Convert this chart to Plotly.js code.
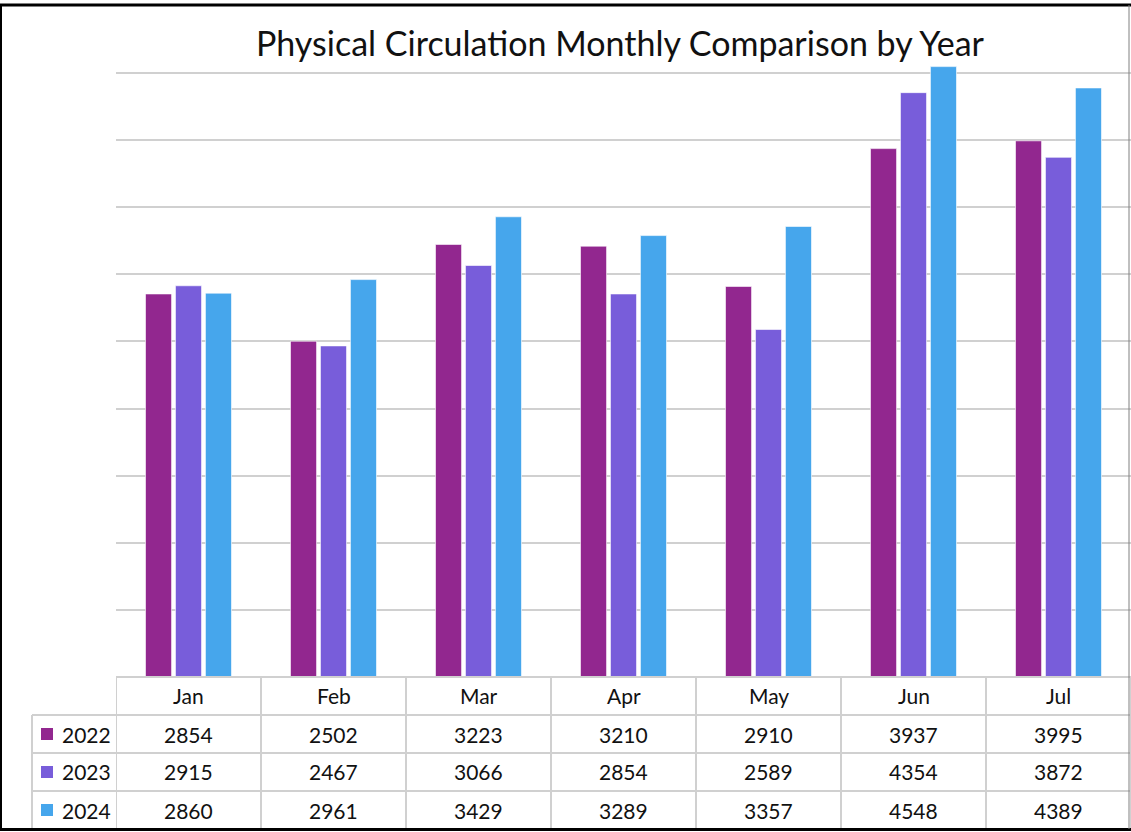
<!DOCTYPE html>
<html>
<head>
<meta charset="utf-8">
<script src="https://cdn.plot.ly/plotly-3.0.1.min.js"></script>
<style>
  html, body { margin: 0; padding: 0; background: #fff; }
  #chart { width: 1131px; height: 832px; }
</style>
</head>
<body>
<div id="chart"></div>
<script>
const months = ["Jan", "Feb", "Mar", "Apr", "May", "Jun", "Jul"];
const years = ["2022", "2023", "2024"];
const v2022 = [2854, 2502, 3223, 3210, 2910, 3937, 3995];
const v2023 = [2915, 2467, 3066, 2854, 2589, 4354, 3872];
const v2024 = [2860, 2961, 3429, 3289, 3357, 4548, 4389];
const colors = ["#92278F", "#785DDA", "#46A6EC"];
const series = [v2022, v2023, v2024];

const W = 1131, H = 832;
const L = 116, R = 0, T = 65, B = 155;
const plotW = W - L - R, plotH = H - T - B;
const baseY = H - B; // pixel y of the baseline
const px = p => (p - L) / plotW;          // pixel x -> paper
const py = p => (baseY - p) / plotH;      // pixel y -> paper

const FONT = "Lato, 'Open Sans', sans-serif";
const TXT = "#111111";
const LINE = "#d0d0d0";

const traces = series.map((vals, i) => ({
  type: "bar",
  name: years[i],
  x: months,
  y: vals,
  marker: { color: colors[i], line: { color: "rgba(255,255,255,0.6)", width: 1 } },
  cliponaxis: false,
  hoverinfo: "x+y+name"
}));

const shapes = [];
const annotations = [];

// table geometry (pixels)
const rowTops = [677, 715, 753, 791, 829];
const leftColX = 32;

// horizontal table lines
shapes.push({ type: "line", xref: "paper", yref: "paper", x0: px(L), x1: 1, y0: py(rowTops[0]), y1: py(rowTops[0]), line: { color: LINE, width: 2 } });
for (let r = 1; r < rowTops.length; r++) {
  shapes.push({ type: "line", xref: "paper", yref: "paper", x0: px(leftColX), x1: 1, y0: py(rowTops[r]), y1: py(rowTops[r]), line: { color: LINE, width: 2 } });
}
// vertical table lines
shapes.push({ type: "line", xref: "paper", yref: "paper", x0: px(leftColX), x1: px(leftColX), y0: py(rowTops[1]), y1: py(rowTops[4]), line: { color: LINE, width: 2 } });
for (let c = 0; c <= months.length; c++) {
  shapes.push({ type: "line", xref: "x", yref: "paper", x0: c - 0.5, x1: c - 0.5, y0: py(rowTops[0]), y1: py(rowTops[4]), line: { color: LINE, width: 2 } });
}

// month header labels
months.forEach((m, i) => {
  annotations.push({ x: m, xref: "x", y: py((rowTops[0] + rowTops[1]) / 2), yref: "paper", text: m, showarrow: false, font: { family: FONT, size: 21, color: TXT }, xanchor: "center", yanchor: "middle" });
});

// data rows
series.forEach((vals, r) => {
  const cy = py((rowTops[r + 1] + rowTops[r + 2]) / 2);
  // legend key
  shapes.push({ type: "rect", xref: "paper", yref: "paper", x0: px(41), x1: px(53), y0: cy - 6 / plotH, y1: cy + 6 / plotH, fillcolor: colors[r], line: { width: 0 } });
  annotations.push({ x: px(60), xref: "paper", y: cy, yref: "paper", text: years[r], showarrow: false, font: { family: FONT, size: 21, color: TXT }, xanchor: "left", yanchor: "middle" });
  vals.forEach((v, i) => {
    annotations.push({ x: months[i], xref: "x", y: cy, yref: "paper", text: String(v), showarrow: false, font: { family: FONT, size: 21, color: TXT }, xanchor: "center", yanchor: "middle" });
  });
});

// outer frame
shapes.push({ type: "line", xref: "paper", yref: "paper", x0: px(0), x1: px(1131), y0: py(5), y1: py(5), line: { color: "#000", width: 3 } });
shapes.push({ type: "line", xref: "paper", yref: "paper", x0: px(1), x1: px(1), y0: py(4), y1: py(830), line: { color: "#000", width: 2 } });
shapes.push({ type: "line", xref: "paper", yref: "paper", x0: px(0), x1: px(1131), y0: py(829.5), y1: py(829.5), line: { color: "#000", width: 3 } });
shapes.push({ type: "line", xref: "paper", yref: "paper", x0: px(1129), x1: px(1129), y0: py(5), y1: py(829), line: { color: "#808080", width: 1 } });

const layout = {
  width: W, height: H,
  margin: { l: L, r: R, t: T, b: B, pad: 0 },
  paper_bgcolor: "#fff", plot_bgcolor: "#fff",
  title: { text: "Physical Circulation Monthly Comparison by Year", font: { family: FONT, size: 34, color: TXT }, x: 620 / W, xanchor: "center", y: 1 - 44 / H, yanchor: "middle" },
  showlegend: false,
  barmode: "group",
  bargap: 0.38,
  bargroupgap: 0.13,
  xaxis: { type: "category", showticklabels: false, showgrid: false, zeroline: false, showline: false, ticks: "", range: [-0.5, 6.5], fixedrange: true },
  yaxis: { range: [0, 4560], dtick: 500, tick0: 0, showticklabels: false, showgrid: true, gridcolor: LINE, gridwidth: 2, zeroline: false, showline: false, ticks: "", fixedrange: true },
  shapes: shapes,
  annotations: annotations,
  font: { family: FONT }
};

Plotly.newPlot("chart", traces, layout, { displayModeBar: false, staticPlot: true });
</script>
</body>
</html>
